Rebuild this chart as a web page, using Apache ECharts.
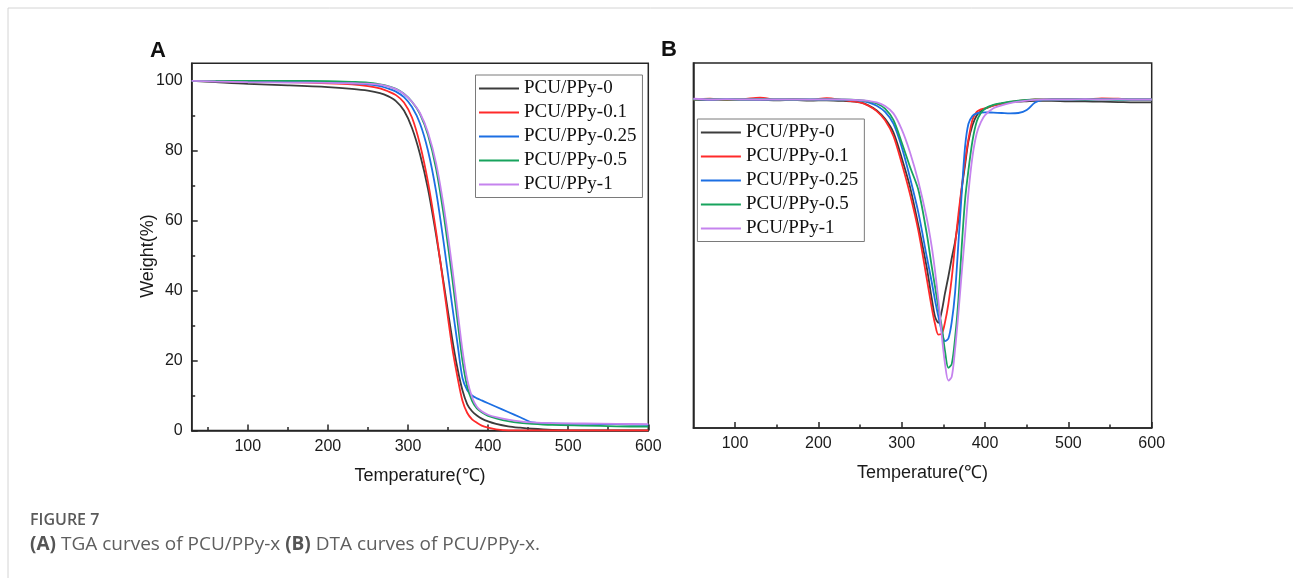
<!DOCTYPE html>
<html><head><meta charset="utf-8">
<script src="https://cdn.jsdelivr.net/npm/echarts@6/dist/echarts.min.js"></script>
<style>html,body{margin:0;padding:0;background:#fff}#c{width:1293px;height:578px}</style>
</head><body><div id="c"></div>
<script>
// ---------- data ----------
const seriesNames = ['PCU/PPy-0', 'PCU/PPy-0.1', 'PCU/PPy-0.25', 'PCU/PPy-0.5', 'PCU/PPy-1'];
const seriesColors = ['#3c3c3c', '#ff2a2a', '#1c6fe3', '#17a35d', '#c583ee'];

// Panel A: TGA, weight (%) vs temperature (°C)
const tgaTemp = [30, 60, 100, 150, 200, 230, 250, 265, 275, 285, 295, 305, 315, 325, 335, 345, 355, 362, 368, 374, 380, 386, 392, 400, 410, 425, 440, 455, 480, 520, 560, 600];
const tga0   = [100, 99.6, 99.1, 98.7, 98.2, 97.7, 97.2, 96.5, 95.6, 94.2, 91.5, 86.5, 79, 69, 56, 41.5, 26.5, 17.5, 11.5, 7.5, 5.5, 4.3, 3.4, 2.6, 1.9, 1.2, 0.8, 0.5, 0.2, 0, 0, 0];
const tga01  = [100, 99.9, 99.8, 99.6, 99.3, 99.0, 98.5, 97.8, 97.0, 95.9, 93.8, 89.5, 81.8, 71, 57, 40.5, 24, 15, 8.5, 5, 3.2, 2.2, 1.4, 0.8, 0.3, 0, 0, 0, 0, 0, 0, 0];
const tga025 = [100, 100, 99.9, 99.8, 99.6, 99.3, 99.0, 98.5, 97.8, 96.9, 95.3, 92.5, 87.8, 80, 68.5, 53, 36, 24.5, 15, 11.5, 10, 9.2, 8.6, 7.8, 6.8, 5.3, 3.8, 2.3, 2.0, 1.9, 1.8, 1.6];
const tga05  = [100, 100, 100, 100, 99.9, 99.7, 99.5, 99.0, 98.5, 97.7, 96.3, 94, 90.5, 84.5, 75, 61, 44, 31, 20, 12.5, 8.5, 6.3, 5.2, 4.2, 3.5, 2.7, 2.2, 1.9, 1.6, 1.4, 1.2, 1.1];
const tga1   = [100, 99.8, 99.6, 99.5, 99.4, 99.3, 99.2, 98.9, 98.4, 97.6, 96.2, 94, 90.8, 85.2, 76.5, 63.5, 47, 34, 23, 14.5, 9.5, 6.8, 5.5, 4.5, 3.8, 3.1, 2.6, 2.3, 2.1, 2.0, 1.9, 1.8];

// Panel B: DTA signal (arbitrary units) vs temperature (°C)
const dtaTemp = [50, 70, 90, 110, 130, 150, 170, 190, 210, 230, 250, 260, 270, 280, 290, 300, 310, 320, 330, 336, 340, 344, 348, 352, 356, 360, 364, 368, 372, 376, 380, 385, 390, 395, 400, 410, 420, 430, 440, 450, 460, 470, 480, 500, 520, 540, 560, 580, 600];
const dta0   = [90, 89.9, 90, 89.9, 89.9, 89.8, 89.9, 89.7, 89.8, 89.6, 89.2, 88.4, 87, 84.7, 81, 74, 66, 55.5, 44, 35.5, 30.5, 28.8, 32, 37, 41.5, 46.5, 51, 57, 65.5, 72, 78.5, 83, 85.6, 86.8, 87.5, 88.4, 88.9, 89.2, 89.4, 89.5, 89.6, 89.6, 89.6, 89.5, 89.5, 89.4, 89.3, 89.2, 89.2];
const dta01  = [90, 90.2, 89.9, 90.1, 90.5, 90, 90.1, 89.9, 90.4, 89.8, 89.2, 88.3, 86.8, 84.3, 80, 72.5, 64, 54, 41, 33, 28.5, 25.6, 25.8, 29, 34, 41, 50, 58.5, 66, 73, 79, 84.5, 86.6, 87.3, 87.6, 88.3, 88.9, 89.3, 89.6, 89.8, 90, 90, 90.1, 90.1, 90, 90.3, 90.2, 90, 90];
const dta025 = [90.1, 90, 90.1, 90, 90, 90, 90, 90, 90, 89.9, 89.7, 89.2, 88.3, 86.6, 83.4, 77, 68.5, 59, 47, 40, 35, 30.5, 26.5, 23.8, 24.5, 29, 37, 50.5, 64.3, 77, 83.3, 85.5, 86.2, 86.4, 86.5, 86.4, 86.3, 86.2, 86.3, 87.1, 89.2, 89.9, 90, 90, 90, 90.1, 90, 90, 90];
const dta05  = [90, 90.1, 90, 90, 90.1, 90, 90, 90, 90, 90, 89.8, 89.5, 88.9, 87.5, 84.4, 78.2, 71.5, 65.2, 53.3, 44.3, 38.7, 33, 27.8, 21, 16.5, 17.5, 24.5, 35, 49.7, 62.4, 70.5, 78.8, 84, 86.3, 87.5, 88.5, 89, 89.4, 89.7, 89.9, 90, 90, 90, 90, 90, 90, 90, 90, 90];
const dta1   = [90.2, 90, 90.1, 90, 90, 90, 90, 90, 90, 90, 89.8, 89.6, 89.2, 88.2, 86.2, 81.8, 75.5, 67.5, 57.5, 49.7, 43, 35, 25.5, 17.5, 13, 14, 21.5, 31.4, 42.5, 53, 64.3, 74.5, 80.7, 83.8, 85.7, 87.6, 88.4, 89, 89.4, 89.7, 89.9, 90, 90, 90, 90.1, 90, 90.1, 90, 90];

// ticks
const tgaXMajor = [100, 200, 300, 400, 500, 600];
const tgaXMinor = [50, 150, 250, 350, 450, 550];
const tgaYMajor = [0, 20, 40, 60, 80, 100];
const tgaYMinor = [10, 30, 50, 70, 90];
const dtaXMajor = [100, 200, 300, 400, 500, 600];
const dtaXMinor = [150, 250, 350, 450, 550];

const tgaSets = [tga0, tga01, tga025, tga05, tga1];
const dtaSets = [dta0, dta01, dta025, dta05, dta1];

// ---------- chart ----------
const AX = '#262626';
const gridA = {left: 191.7, top: 63.3, width: 456.6, height: 367.2};
const gridB = {left: 693.4, top: 63, width: 458.3, height: 365};
const labelFont = {fontFamily: 'Liberation Sans', fontSize: 16, color: '#1a1a1a'};
const nameFont = {fontFamily: 'Liberation Sans', fontSize: 18, color: '#1a1a1a'};

function majorX(grid, min, ticks, withName) {
  return {
    type: 'value', gridIndex: grid, min: min, max: 600, position: 'bottom',
    axisLine: {show: true, lineStyle: {color: AX, width: 1.5}},
    axisTick: {show: true, inside: true, length: 6, customValues: ticks, lineStyle: {color: AX, width: 1.5}},
    axisLabel: {show: true, customValues: ticks, margin: 8, ...labelFont},
    splitLine: {show: false},
    name: withName ? 'Temperature(℃)' : '', nameLocation: 'middle', nameGap: 36.5, nameTextStyle: nameFont
  };
}
function minorX(grid, min, ticks) {
  return {
    type: 'value', gridIndex: grid, min: min, max: 600, position: 'bottom',
    axisLine: {show: false},
    axisTick: {show: true, inside: true, length: 3.5, customValues: ticks, lineStyle: {color: AX, width: 1.5}},
    axisLabel: {show: false}, splitLine: {show: false}
  };
}

const series = [];
seriesNames.forEach((nm, i) => {
  series.push({
    name: nm, type: 'line', xAxisIndex: 0, yAxisIndex: 0,
    data: tgaTemp.map((t, j) => [t, tgaSets[i][j]]),
    showSymbol: false, smooth: 0.3, clip: true,
    lineStyle: {color: seriesColors[i], width: 1.8}, itemStyle: {color: seriesColors[i]},
    z: 3 + i
  });
});
seriesNames.forEach((nm, i) => {
  series.push({
    name: nm, type: 'line', xAxisIndex: 1, yAxisIndex: 1,
    data: dtaTemp.map((t, j) => [t, dtaSets[i][j]]),
    showSymbol: false, smooth: 0.3, clip: true,
    lineStyle: {color: seriesColors[i], width: 1.8}, itemStyle: {color: seriesColors[i]},
    z: 3 + i
  });
});

const legendBase = {
  data: seriesNames, orient: 'vertical', icon: 'rect', itemWidth: 40, itemHeight: 2, itemGap: 4,
  borderColor: '#7a7a7a', borderWidth: 1, selectedMode: false,
  padding: [3.5, 6, 3, 3.5],
  textStyle: {fontFamily: 'Liberation Serif', fontSize: 19, lineHeight: 20, color: '#111'}
};

const option = {
  animation: false,
  backgroundColor: '#fff',
  grid: [
    {...gridA, show: true, borderColor: AX, borderWidth: 1.5, backgroundColor: 'transparent'},
    {...gridB, show: true, borderColor: AX, borderWidth: 1.5, backgroundColor: 'transparent'},
    {...gridA, show: false},
    {...gridB, show: false}
  ],
  xAxis: [
    majorX(0, 30, tgaXMajor, true),
    majorX(1, 50, dtaXMajor, true),
    minorX(2, 30, tgaXMinor),
    minorX(3, 50, dtaXMinor)
  ],
  yAxis: [
    {type: 'value', gridIndex: 0, min: 0, max: 105,
     axisLine: {show: true, lineStyle: {color: AX, width: 1.5}},
     axisTick: {show: true, inside: true, length: 6, customValues: tgaYMajor, lineStyle: {color: AX, width: 1.5}},
     axisLabel: {show: true, customValues: tgaYMajor, margin: 9, ...labelFont},
     splitLine: {show: false}},
    {type: 'value', gridIndex: 1, min: 0, max: 100,
     axisLine: {show: true, lineStyle: {color: AX, width: 1.5}},
     axisTick: {show: false}, axisLabel: {show: false}, splitLine: {show: false}},
    {type: 'value', gridIndex: 2, min: 0, max: 105,
     axisLine: {show: false},
     axisTick: {show: true, inside: true, length: 3.5, customValues: tgaYMinor, lineStyle: {color: AX, width: 1.5}},
     axisLabel: {show: false}, splitLine: {show: false}},
    {type: 'value', gridIndex: 3, min: 0, max: 100, show: false}
  ],
  legend: [
    {...legendBase, left: 475.5, top: 75},
    {...legendBase, left: 697.4, top: 119}
  ],
  series: series,
  graphic: [
    {type: 'line', shape: {x1: 8, y1: 8, x2: 1293, y2: 8}, style: {stroke: '#d4d4d4', lineWidth: 1}, silent: true},
    {type: 'line', shape: {x1: 8, y1: 8, x2: 8, y2: 578}, style: {stroke: '#d4d4d4', lineWidth: 1}, silent: true},
    {type: 'text', x: 148, y: 256, rotation: Math.PI / 2, style: {text: 'Weight(%)', font: '18px "Liberation Sans"', fill: '#1a1a1a', align: 'center', verticalAlign: 'middle'}},
    {type: 'text', left: 150, top: 40, style: {text: 'A', font: 'bold 22px "Liberation Sans"', fill: '#111'}},
    {type: 'text', left: 661, top: 39, style: {text: 'B', font: 'bold 22px "Liberation Sans"', fill: '#111'}},
    {type: 'text', left: 30, top: 512, style: {text: 'FIGURE 7', font: '600 16px "Open Sans"', fill: '#5a5a5a'}},
    {type: 'text', left: 30, top: 535, style: {
      text: '{b|(A)} TGA curves of PCU/PPy-x {b|(B)} DTA curves of PCU/PPy-x.',
      font: '19px "Open Sans"', fill: '#5f5f5f',
      rich: {b: {fontFamily: 'Open Sans', fontSize: 19, fontWeight: 'bold', fill: '#555', color: '#555'}}
    }}
  ]
};

const chart = echarts.init(document.getElementById('c'), null, {renderer: 'canvas'});
chart.setOption(option);
</script>
</body></html>
